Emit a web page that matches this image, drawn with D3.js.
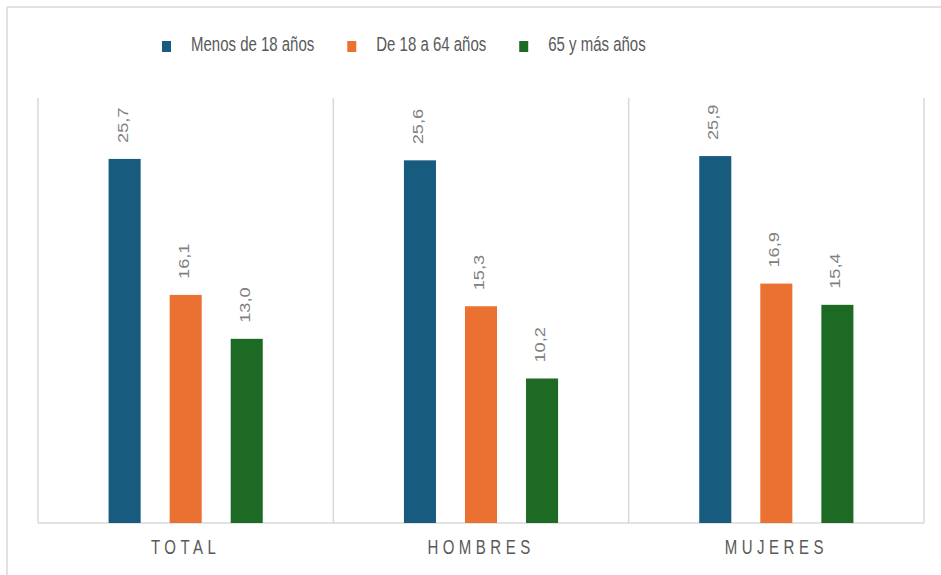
<!DOCTYPE html>
<html>
<head>
<meta charset="utf-8">
<script src="https://cdn.jsdelivr.net/npm/d3@7"></script>
<style>
  html, body { margin: 0; padding: 0; background: #ffffff; }
  svg { display: block; font-family: "Liberation Sans", Arial, sans-serif; }
</style>
</head>
<body>
<svg id="chart" width="941" height="575"></svg>
<script>
const categories = ["TOTAL", "HOMBRES", "MUJERES"];
const seriesNames = ["Menos de 18 años", "De 18 a 64 años", "65 y más años"];
const menos18 = [25.7, 25.6, 25.9];
const de18a64 = [16.1, 15.3, 16.9];
const mas65 = [13.0, 10.2, 15.4];
const seriesValues = [menos18, de18a64, mas65];
const colors = ["#175c7e", "#eb7132", "#1c6a24"];

(function () {
const svg = d3.select("#chart");
const W = 941, H = 575;
const pLeft = 38, pRight = 924, pTop = 98, pBottom = 523;
const stretch = 1.3;
const gridColor = "#d9d9d9";

// outer frame (partly cropped)
svg.append("line").attr("x1", 7).attr("x2", W).attr("y1", 7).attr("y2", 7)
  .attr("stroke", gridColor).attr("stroke-width", 1.5);
svg.append("line").attr("x1", 7).attr("x2", 7).attr("y1", 7).attr("y2", H)
  .attr("stroke", gridColor).attr("stroke-width", 1.5);

const x0 = d3.scaleBand().domain(categories).range([pLeft, pRight]).padding(0);
const x1 = d3.scaleBand().domain(d3.range(seriesNames.length))
  .range([0, x0.bandwidth()]).paddingInner(0.475).paddingOuter(1.156);
const y = d3.scaleLinear().domain([0, 30]).range([pBottom, pTop]);

// separators
const seps = categories.map(c => x0(c)).concat([pRight]);
svg.append("g").selectAll("line").data(seps).join("line")
  .attr("x1", d => d).attr("x2", d => d)
  .attr("y1", pTop).attr("y2", pBottom)
  .attr("stroke", gridColor).attr("stroke-width", 1.5);
// baseline
svg.append("line").attr("x1", pLeft).attr("x2", pRight)
  .attr("y1", y(0)).attr("y2", y(0))
  .attr("stroke", gridColor).attr("stroke-width", 1.5);

// bars
const data = [];
categories.forEach((c, ci) => {
  seriesValues.forEach((vals, si) => {
    data.push({ cat: c, si, value: vals[ci] });
  });
});

svg.append("g").selectAll("rect").data(data).join("rect")
  .attr("x", d => x0(d.cat) + x1(d.si))
  .attr("y", d => y(d.value))
  .attr("width", x1.bandwidth())
  .attr("height", d => y(0) - y(d.value))
  .attr("fill", d => colors[d.si]);

// value labels (rotated)
const fmt = v => v.toFixed(1).replace(".", ",");
svg.append("g").selectAll("text").data(data).join("text")
  .attr("transform", d => {
    const cx = x0(d.cat) + x1(d.si) + x1.bandwidth() / 2 - 2;
    const cy = y(d.value) - 16;
    return `translate(${cx},${cy}) scale(1,${stretch}) rotate(-90)`;
  })
  .attr("dy", "0.35em")
  .attr("text-anchor", "start")
  .attr("font-size", 14)
  .attr("fill", "#808080")
  .text(d => fmt(d.value));

// category labels
svg.append("g").selectAll("text").data(categories).join("text")
  .attr("transform", d => `translate(${x0(d) + x0.bandwidth() / 2},554) scale(1,${stretch})`)
  .attr("text-anchor", "middle")
  .attr("font-size", 15)
  .attr("letter-spacing", 4.5)
  .attr("fill", "#595959")
  .text(d => d);

// legend
const legend = svg.append("g");
let lx = 162;
seriesNames.forEach((name, i) => {
  legend.append("rect").attr("x", lx).attr("y", 41).attr("width", 9).attr("height", 11)
    .attr("fill", colors[i]);
  const t = legend.append("text")
    .attr("transform", `translate(${lx + 29},51) scale(1,${stretch})`)
    .attr("font-size", 15)
    .attr("fill", "#595959")
    .text(name);
  const w = t.node().getComputedTextLength();
  lx = lx + 29 + w + 33;
});
})();
</script>
</body>
</html>
